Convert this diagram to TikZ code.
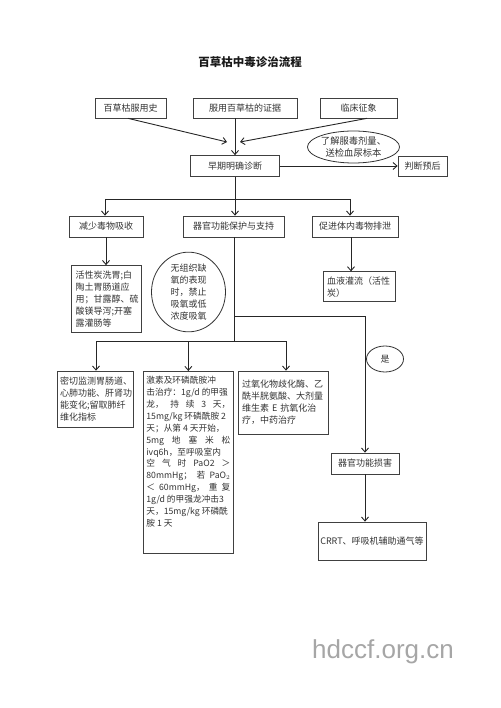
\documentclass[tikz,border=0pt]{standalone}
\usepackage{fontspec}
\setmainfont{Noto Sans CJK SC}
\newfontfamily\wmfont{Liberation Sans}
\usetikzlibrary{arrows.meta,shapes.geometric}
\newcommand\jline[1]{\makebox[\linewidth][s]{#1}}
\begin{document}
\begin{tikzpicture}[x=1pt,y=-1pt,
  every node/.style={font=\fontsize{9}{12}\selectfont, text=black!80, inner sep=0pt},
  box/.style={draw=black!75, line width=0.7pt, rectangle},
  oval/.style={draw=black!80, line width=0.8pt, ellipse},
  conn/.style={draw=black!85, line width=0.9pt},
  arr/.style={conn, -{Straight Barb[length=4pt,width=7pt]}},
]
\useasboundingbox (0,0) rectangle (500,708);

\node[font=\fontsize{11.5}{14}\selectfont\bfseries, text=black!90] (title) at (250,62) {百草枯中毒诊治流程};

% top row
\node[box, minimum width=71pt, minimum height=20pt] (b1) at (130.5,108) {百草枯服用史};
\node[box, minimum width=104pt, minimum height=20pt] (b2) at (245,108) {服用百草枯的证据};
\node[box, minimum width=77pt, minimum height=20pt] (b3) at (358.5,108) {临床征象};

\node[box, minimum width=89pt, minimum height=21pt] (diag) at (235,166) {早期明确诊断};
\node[oval, minimum width=79pt, minimum height=32pt, align=center, font=\fontsize{9.3}{11.5}\selectfont] (ell) at (353.5,147) {了解服毒剂量、\\送检血尿标本};
\node[box, minimum width=49pt, minimum height=20pt] (prog) at (422.5,166) {判断预后};

\coordinate (t1) at (227,142);
\coordinate (t2) at (240,142);
\draw[arr] ([xshift=-2.5pt]b1.south) -- (t1);
\draw[arr] ([xshift=8.5pt]b3.south) -- (t2);
\draw[arr] (b2.south -| diag.north) -- (diag.north);
\draw[arr] (diag.east) -- (prog.west);

% second row
\node[box, minimum width=74pt, minimum height=21pt] (r1) at (106,226.5) {减少毒物吸收};
\node[box, minimum width=101pt, minimum height=21pt] (r2) at (233.5,226.5) {器官功能保护与支持};
\node[box, minimum width=86pt, minimum height=21pt] (r3) at (355,226.5) {促进体内毒物排泄};

\coordinate (j0) at (235,199);
\coordinate (cl) at (105,199);
\coordinate (cr) at (350,199);
\draw[conn] (diag.south) -- (j0);
\draw[conn] (cl) -- (cr);
\draw[arr] (cl) -- (cl |- r1.north);
\draw[arr] (j0) -- (r2.north -| j0);
\draw[arr] (cr) -- (cr |- r3.north);

% third level
\node[box, minimum width=70pt, minimum height=67pt, text width=62pt, align=left] (act) at (106.7,299)
  {活性炭洗胃;白\\陶土胃肠道应\\用；甘露醇、硫\\酸镁导泻;开塞\\露灌肠等};
\node[oval, minimum width=74pt, minimum height=78pt, align=center] (circ) at (188.5,292)
  {无组织缺\\氧的表现\\时，禁止\\吸氧或低\\浓度吸氧};
\node[box, minimum width=72pt, minimum height=30pt, text width=64pt, align=left] (hp) at (359,286.7)
  {血液灌流（活性\\炭）};

\coordinate (c1) at (106,0);
\coordinate (c3) at (351,0);
\draw[arr] (r1.south -| c1) -- (act.north -| c1);
\draw[arr] (r3.south -| c3) -- (hp.north -| c3);

% organ protection branch
\coordinate (v1) at (234,316.7);
\coordinate (v2) at (234,341);
\coordinate (h1) at (96,341);
\coordinate (h2) at (286,341);
\coordinate (rr) at (365,316.7);
\draw[conn] (r2.south -| v1) -- (v2);
\draw[conn] (h1) -- (h2);

\node[box, minimum width=76pt, minimum height=56pt, text width=70pt, align=left] (m1) at (95,399)
  {密切监测胃肠道、\\心肺功能、肝肾功\\能变化;留取肺纤\\维化指标};
\node[box, anchor=north west, minimum width=90pt, minimum height=182pt, font=\fontsize{8.7}{11.9}\selectfont] (m2) at (143,371)
  {\parbox[c][176pt][t]{84pt}{\raggedright\vspace*{2pt}%
   \mbox{激素及环磷酰胺冲}\\
   \mbox{击治疗：1g/d 的甲强}\\
   \jline{龙， 持 续 3 天，}\\
   \mbox{15mg/kg 环磷酰胺 2}\\
   \mbox{天；从第 4 天开始，}\\
   \jline{5mg 地 塞 米 松}\\
   \mbox{ivq6h，至呼吸室内}\\
   \jline{空 气 时 PaO2 ＞}\\
   \jline{80mmHg； 若 PaO$_2$}\\
   \jline{＜ 60mmHg， 重 复}\\
   \mbox{1g/d 的甲强龙冲击3}\\
   \mbox{天，15mg/kg 环磷酰}\\
   \mbox{胺 1 天}}};
\node[box, minimum width=90pt, minimum height=63pt, text width=82pt, align=left] (m3) at (283,402.5)
  {过氧化物歧化酶、乙\\酰半胱氨酸、大剂量\\维生素 E 抗氧化治\\疗，中药治疗};

\draw[arr] (h1) -- (h1 |- m1.north);
\draw[arr] (m2.north |- h1) -- (m2.north);
\draw[arr] (h2) -- (h2 |- m3.north);

\node[oval, minimum width=37pt, minimum height=26pt] (yes) at (385,359) {是};
\node[box, minimum width=68pt, minimum height=21pt] (organ) at (365,463.5) {器官功能损害};
\node[box, minimum width=108pt, minimum height=38pt] (crrt) at (372,541) {CRRT、呼吸机辅助通气等};

\draw[arr] (v1) -- (rr) -- (rr |- organ.north);
\draw[arr] (organ.south) -- (organ.south |- crrt.north);

\node[font=\wmfont\fontsize{26}{30}\selectfont, text=black!35] (wm) at (383,652) {hdccf.org.cn};
\end{tikzpicture}
\end{document}
